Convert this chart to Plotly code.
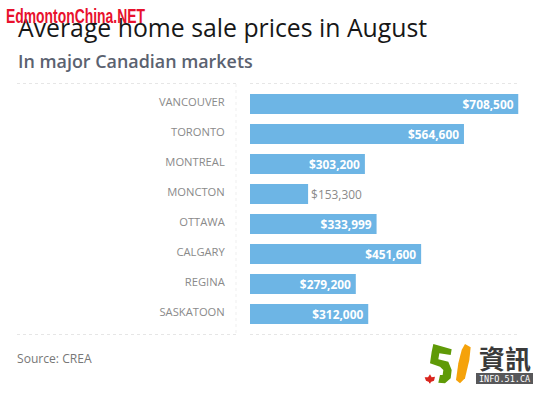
import plotly.graph_objects as go

cities = ["VANCOUVER", "TORONTO", "MONTREAL", "MONCTON", "OTTAWA", "CALGARY", "REGINA", "SASKATOON"]
prices = [708500, 564600, 303200, 153300, 333999, 451600, 279200, 312000]
W, H = 542, 394
px = lambda x: x / W
py = lambda y: 1 - y / H
X0, X1, Y0, Y1 = 250, 518.5, 89, 329
BAR = "#6DB5E5"
labels = [f"${v:,}" if v < 200000 else f"${v:,}\u2009" for v in prices]
positions = ["outside" if v < 200000 else "inside" for v in prices]
text_colors = ["#8a8a8a" if v < 200000 else "white" for v in prices]

fig = go.Figure(go.Bar(
    y=cities, x=prices, orientation="h", width=20 / 30, marker=dict(color=BAR, line=dict(width=0)),
    text=labels, textposition=positions, insidetextanchor="end", cliponaxis=False,
    textangle=0, constraintext="none",
    textfont=dict(family="Open Sans", size=11.9, color=text_colors, weight=[400 if v < 200000 else 700 for v in prices]),
    hoverinfo="skip",
))

shapes = []
def line(x0, y0, x1, y1, color="#e6e6e6"):
    shapes.append(dict(type="line", xref="paper", yref="paper", x0=px(x0), y0=py(y0), x1=px(x1), y1=py(y1),
                       line=dict(color=color, width=1, dash="3px,3px"), layer="below"))
line(17, 83.5, 236, 83.5)
line(250, 83.5, 518, 83.5)
line(17, 334.5, 236, 334.5)
line(250, 334.5, 518, 334.5)
line(236, 84, 236, 334, "#efefef")

def path(points, color):
    d = "M" + " L".join(f"{px(380 + a / 3):.5f},{py(320 + b / 3):.5f}" for a, b in points) + " Z"
    shapes.append(dict(type="path", xref="paper", yref="paper", path=d, fillcolor=color, line=dict(width=0), layer="above"))

path([(160, 72), (215, 88), (212, 105), (178, 100), (175, 118), (205, 125), (215, 150), (212, 175), (195, 190),
      (175, 188), (180, 165), (188, 165), (190, 150), (180, 140), (150, 130), (155, 95)], "#5F9A07")
path([(255, 72), (272, 82), (268, 120), (255, 175), (240, 190), (228, 180), (235, 130), (245, 90)], "#F5A20A")
path([(150, 163), (155, 172), (165, 170), (162, 182), (152, 186), (152, 190), (147, 190), (147, 186),
      (138, 182), (134, 172), (144, 172)], "#D9251D")
shapes.append(dict(type="rect", xref="paper", yref="paper", x0=px(476), x1=px(533), y0=py(373), y1=py(384),
                   fillcolor="#58585a", line=dict(width=0)))

def note(text, x, y, size, color, family="Open Sans", weight=400, anchor="left"):
    fig.add_annotation(text=text, xref="paper", yref="paper", x=px(x), y=py(y), xanchor=anchor, yanchor="middle",
                       showarrow=False, align=anchor,
                       font=dict(family=family, size=size, color=color, weight=weight), borderpad=0, borderwidth=0)

note("Average home sale prices in August", 18, 27.5, 24.8, "#171717")
note("In major Canadian markets", 18, 61, 17.9, "#5b6270", weight=600)
note("Source: CREA", 17, 358, 12.1, "#777777")
note("EdmontonChina.NET", 6, 15, 21, "#E8112D", family="Liberation Sans", weight=700)
note("資訊", 505, 357, 26, "#3a3a3a", family="Noto Sans CJK TC", weight=700, anchor="center")
note("INFO.51.CA", 504.5, 378.5, 8.5, "#ffffff", family="DejaVu Sans Mono", anchor="center")

fig.update_layout(
    width=W, height=H, autosize=False, margin=dict(l=0, r=0, t=0, b=0, pad=0),
    paper_bgcolor="white", plot_bgcolor="white", showlegend=False, shapes=shapes, bargap=1 / 3,
    xaxis=dict(domain=[px(X0), px(X1)], range=[0, 708500], visible=False, fixedrange=True),
    yaxis=dict(domain=[py(Y1), py(Y0)], autorange="reversed", showgrid=False, zeroline=False, showline=False,
               ticks="outside", ticklen=22, tickcolor="rgba(0,0,0,0)", fixedrange=True, ticklabelshift=2,
               tickfont=dict(family="Open Sans", size=11.2, color="#8a8a8a")),
)
post = """
document.body.style.margin='0';document.body.style.overflow='hidden';
document.querySelectorAll('.annotation-text').forEach(function(t){
  if(t.textContent==='EdmontonChina.NET'){t.setAttribute('textLength','139');t.setAttribute('lengthAdjust','spacingAndGlyphs');}
});
"""
fig.write_html("out.html", config=dict(displayModeBar=False), post_script=post)
